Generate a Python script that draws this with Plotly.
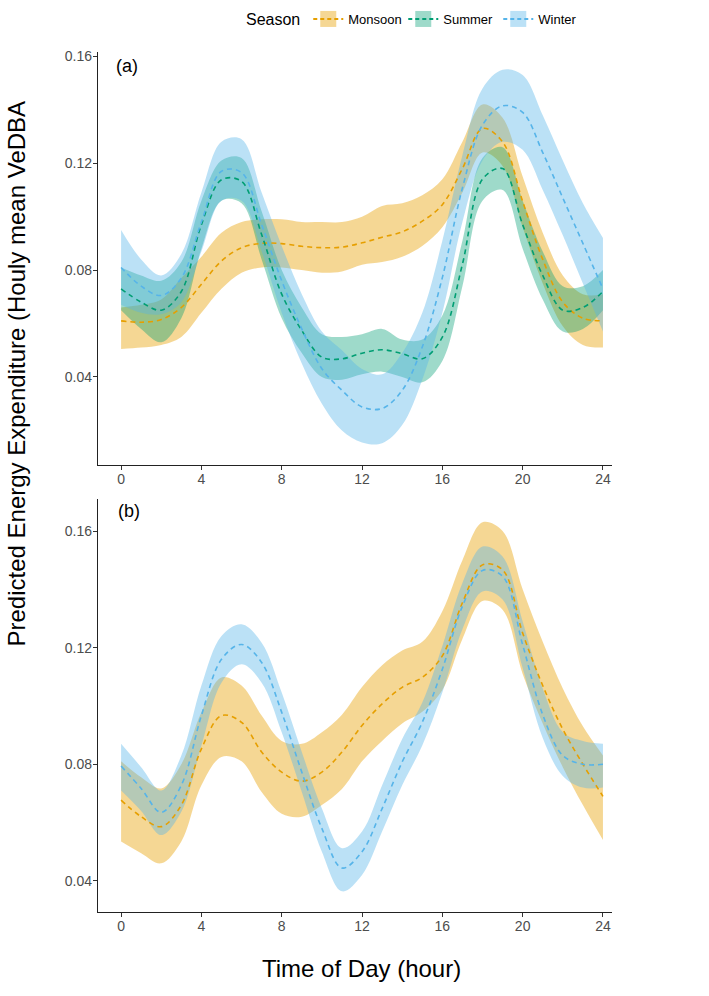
import plotly.graph_objects as go

# ---------------- data ----------------
hours = list(range(0, 25))

# Panel (a)
a_monsoon = [0.0610, 0.0605, 0.0615, 0.0660, 0.0747, 0.0834, 0.0884, 0.0900, 0.0899, 0.0889, 0.0884, 0.0886, 0.0902,
             0.0923, 0.0943, 0.0983, 0.1045, 0.1180, 0.1330, 0.1280, 0.1057, 0.0840, 0.0680, 0.0620, 0.0610]
a_monsoon_lo = [0.0505, 0.0510, 0.0520, 0.0550, 0.0640, 0.0730, 0.0790, 0.0810, 0.0810, 0.0800, 0.0790, 0.0795, 0.0820,
                0.0830, 0.0850, 0.0890, 0.0960, 0.1090, 0.1240, 0.1190, 0.0960, 0.0750, 0.0590, 0.0520, 0.0510]
a_monsoon_hi = [0.0660, 0.0670, 0.0690, 0.0770, 0.0850, 0.0940, 0.0980, 0.0990, 0.0990, 0.0980, 0.0980, 0.0980, 0.1000,
                0.1040, 0.1050, 0.1080, 0.1140, 0.1280, 0.1420, 0.1370, 0.1150, 0.0940, 0.0780, 0.0710, 0.0710]

a_summer = [0.0730, 0.0680, 0.0650, 0.0720, 0.0970, 0.1138, 0.1132, 0.0933, 0.0710, 0.0574, 0.0474, 0.0468, 0.0489,
            0.0502, 0.0487, 0.0468, 0.0549, 0.0822, 0.1140, 0.1180, 0.0970, 0.0780, 0.0650, 0.0660, 0.0720]
a_summer_lo = [0.0650, 0.0580, 0.0530, 0.0620, 0.0880, 0.1060, 0.1050, 0.0840, 0.0620, 0.0490, 0.0400, 0.0390, 0.0410,
               0.0420, 0.0400, 0.0380, 0.0460, 0.0740, 0.1060, 0.1100, 0.0880, 0.0690, 0.0570, 0.0580, 0.0650]
a_summer_hi = [0.0810, 0.0780, 0.0760, 0.0830, 0.1060, 0.1210, 0.1220, 0.1020, 0.0800, 0.0660, 0.0560, 0.0550, 0.0560,
               0.0580, 0.0540, 0.0540, 0.0630, 0.0910, 0.1220, 0.1260, 0.1060, 0.0870, 0.0740, 0.0740, 0.0800]

a_winter = [0.0810, 0.0740, 0.0705, 0.0770, 0.0980, 0.1170, 0.1165, 0.0970, 0.0760, 0.0580, 0.0431, 0.0350, 0.0288,
            0.0282, 0.0350, 0.0512, 0.0772, 0.1107, 0.1343, 0.1415, 0.1390, 0.1240, 0.1070, 0.0900, 0.0730]
a_winter_lo = [0.0670, 0.0640, 0.0635, 0.0680, 0.0870, 0.1060, 0.1060, 0.0870, 0.0640, 0.0450, 0.0300, 0.0200, 0.0155,
               0.0152, 0.0220, 0.0390, 0.0640, 0.0980, 0.1210, 0.1280, 0.1250, 0.1100, 0.0930, 0.0750, 0.0570]
a_winter_hi = [0.0950, 0.0840, 0.0780, 0.0860, 0.1090, 0.1280, 0.1290, 0.1090, 0.0890, 0.0710, 0.0570, 0.0500, 0.0430,
               0.0410, 0.0490, 0.0640, 0.0910, 0.1230, 0.1480, 0.1550, 0.1530, 0.1380, 0.1210, 0.1050, 0.0920]

# Panel (b)
b_monsoon = [0.0677, 0.0620, 0.0586, 0.0660, 0.0853, 0.0967, 0.0944, 0.0842, 0.0773, 0.0742, 0.0773, 0.0842, 0.0933,
             0.1007, 0.1064, 0.1098, 0.1172, 0.1354, 0.1484, 0.1467, 0.1250, 0.1070, 0.0920, 0.0800, 0.0690]
b_monsoon_lo = [0.0535, 0.0495, 0.0460, 0.0535, 0.0728, 0.0825, 0.0810, 0.0705, 0.0630, 0.0620, 0.0660, 0.0715, 0.0810,
                0.0880, 0.0940, 0.0980, 0.1055, 0.1230, 0.1360, 0.1330, 0.1110, 0.0940, 0.0790, 0.0660, 0.0540]
b_monsoon_hi = [0.0810, 0.0755, 0.0717, 0.0800, 0.0978, 0.1098, 0.1070, 0.0967, 0.0880, 0.0870, 0.0910, 0.0970, 0.1065,
                0.1140, 0.1190, 0.1220, 0.1325, 0.1500, 0.1630, 0.1600, 0.1400, 0.1220, 0.1060, 0.0930, 0.0830]

b_winter = [0.0794, 0.0717, 0.0635, 0.0728, 0.0967, 0.1160, 0.1211, 0.1149, 0.0978, 0.0773, 0.0580, 0.0444, 0.0500,
            0.0648, 0.0808, 0.0944, 0.1126, 0.1342, 0.1465, 0.1445, 0.1210, 0.0970, 0.0830, 0.0800, 0.0800]
b_winter_lo = [0.0710, 0.0640, 0.0557, 0.0637, 0.0864, 0.1080, 0.1143, 0.1080, 0.0910, 0.0705, 0.0500, 0.0364, 0.0420,
               0.0569, 0.0728, 0.0864, 0.1046, 0.1263, 0.1393, 0.1365, 0.1130, 0.0890, 0.0760, 0.0720, 0.0720]
b_winter_hi = [0.0870, 0.0790, 0.0710, 0.0830, 0.1070, 0.1240, 0.1280, 0.1217, 0.1046, 0.0842, 0.0648, 0.0512, 0.0569,
               0.0728, 0.0887, 0.1012, 0.1206, 0.1422, 0.1547, 0.1513, 0.1290, 0.1060, 0.0910, 0.0880, 0.0870]

x_ticks = [0, 4, 8, 12, 16, 20, 24]
y_ticks = [0.04, 0.08, 0.12, 0.16]
y_tick_labels = ["0.04", "0.08", "0.12", "0.16"]

seasons = ["Monsoon", "Summer", "Winter"]
colors = {"Monsoon": "#E69F00", "Summer": "#009E73", "Winter": "#56B4E9"}
fills = {"Monsoon": "rgba(230,159,0,0.42)", "Summer": "rgba(0,158,115,0.38)", "Winter": "rgba(86,180,233,0.40)"}

panel_a = {"Monsoon": (a_monsoon, a_monsoon_lo, a_monsoon_hi),
           "Summer": (a_summer, a_summer_lo, a_summer_hi),
           "Winter": (a_winter, a_winter_lo, a_winter_hi)}
panel_b = {"Monsoon": (b_monsoon, b_monsoon_lo, b_monsoon_hi),
           "Winter": (b_winter, b_winter_lo, b_winter_hi)}

# ---------------- figure ----------------
W, H = 709, 996
fig = go.Figure()


def add_panel(data, xa, ya):
    for s in seasons:
        if s not in data:
            continue
        mid, lo, hi = data[s]
        fig.add_trace(go.Scatter(x=hours, y=lo, mode="lines", line=dict(width=0, shape="spline"),
                                 showlegend=False, hoverinfo="skip", xaxis=xa, yaxis=ya))
        fig.add_trace(go.Scatter(x=hours, y=hi, mode="lines", line=dict(width=0, shape="spline"),
                                 fill="tonexty", fillcolor=fills[s],
                                 showlegend=False, hoverinfo="skip", xaxis=xa, yaxis=ya))
    for s in seasons:
        if s not in data:
            continue
        mid, lo, hi = data[s]
        fig.add_trace(go.Scatter(x=hours, y=mid, mode="lines",
                                 line=dict(color=colors[s], width=1.6, dash="5px,4px", shape="spline"),
                                 showlegend=False, name=s, xaxis=xa, yaxis=ya))


add_panel(panel_a, "x", "y")
add_panel(panel_b, "x2", "y2")

# legend-only entries (filled square key with dashed line, like ggplot)
for s in seasons:
    fig.add_trace(go.Scatter(x=[None], y=[None], mode="lines+markers", name=s,
                             line=dict(color=colors[s], width=2, dash="4px,3px"),
                             marker=dict(symbol="square", size=21, color=fills[s], line=dict(width=0)),
                             xaxis="x", yaxis="y"))

font_family = "Liberation Sans, Arial, sans-serif"


def px_x(p):
    return p / W


def px_y(p):
    return 1 - p / H


xaxis_common = dict(range=[-1.15, 24.45], tickvals=x_ticks, ticktext=[str(v) for v in x_ticks],
                    showgrid=False, zeroline=False, showline=True, linecolor="#222", linewidth=1.3,
                    ticks="outside", ticklen=4, tickcolor="#333", tickwidth=1,
                    tickfont=dict(size=14, color="#4D4D4D", family=font_family),
                    ticklabelstandoff=-3,
                    domain=[px_x(98), px_x(612)])
yaxis_common = dict(tickvals=y_ticks, ticktext=y_tick_labels, showgrid=False, zeroline=False,
                    showline=True, linecolor="#222", linewidth=1.3,
                    ticks="outside", ticklen=4, tickcolor="#333", tickwidth=1,
                    tickfont=dict(size=14, color="#4D4D4D", family=font_family),
                    ticklabelstandoff=-2)


def label(text, x, y, size, angle=0):
    return dict(text=text, x=px_x(x), y=px_y(y), xref="paper", yref="paper", showarrow=False,
                xanchor="center", yanchor="middle", textangle=angle,
                font=dict(size=size, color="black", family=font_family))


fig.update_layout(
    width=W, height=H,
    margin=dict(l=0, r=0, t=0, b=0),
    paper_bgcolor="white", plot_bgcolor="white",
    font=dict(family=font_family, color="black"),
    xaxis=dict(**xaxis_common, anchor="y"),
    yaxis=dict(**yaxis_common, range=[0.0070, 0.1617], domain=[px_y(463), px_y(48)], anchor="x"),
    xaxis2=dict(**xaxis_common, anchor="y2"),
    yaxis2=dict(**yaxis_common, range=[0.0292, 0.1710], domain=[px_y(912), px_y(497)], anchor="x2"),
    showlegend=True,
    legend=dict(orientation="h", x=px_x(244), y=1.0, xanchor="left", yanchor="top",
                title=dict(text="Season", side="left", font=dict(size=16, color="black", family=font_family)),
                font=dict(size=13, color="black", family=font_family),
                itemwidth=30, entrywidth=50, entrywidthmode="pixels",
                bgcolor="rgba(0,0,0,0)", traceorder="normal"),
    annotations=[
        label("(a)", 127, 62, 18),
        label("(b)", 129, 509, 18),
        label("Time of Day (hour)", 361, 968, 24),
        label("Predicted Energy Expenditure (Houly mean VeDBA", 17, 371, 24, angle=-90),
    ],
)

fig.write_html("out.html")
